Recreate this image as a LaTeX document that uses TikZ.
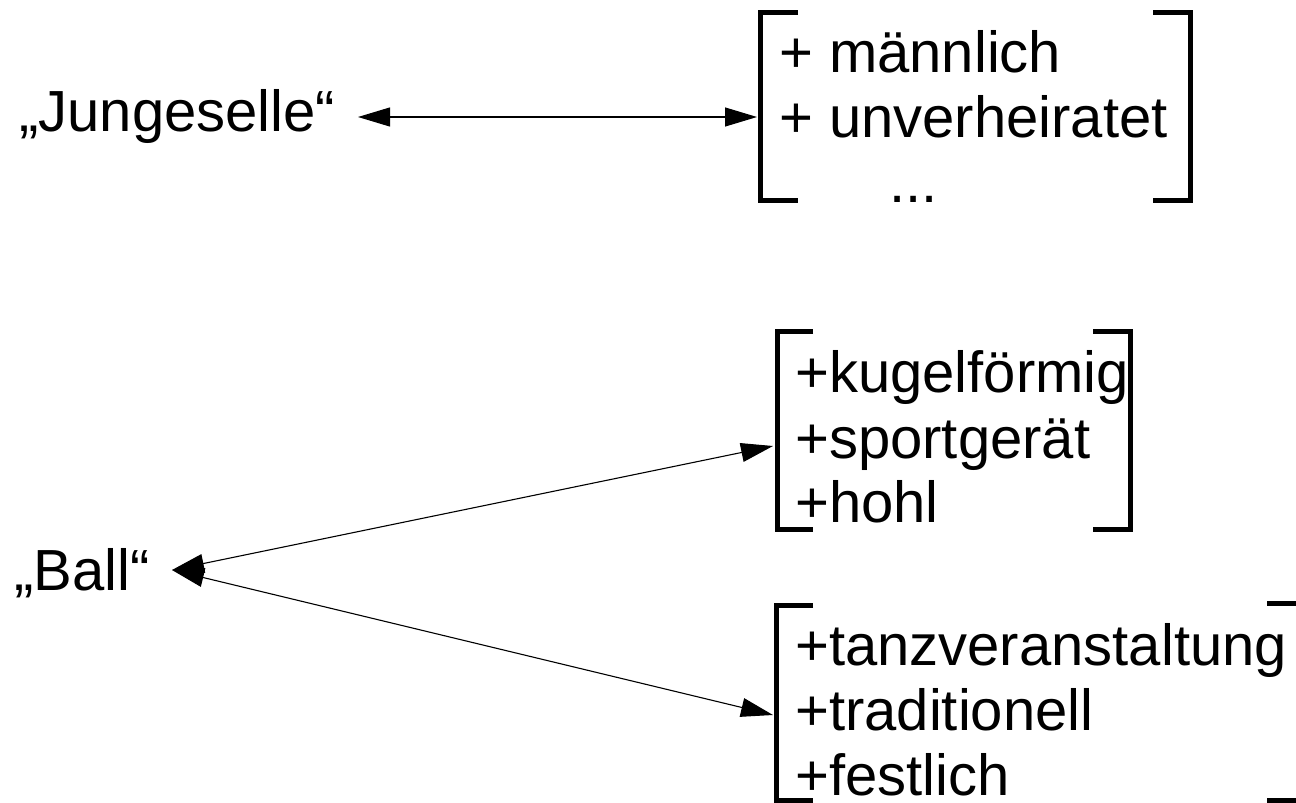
\documentclass[tikz,border=0pt]{standalone}
\usepackage{fontspec}
\setmainfont{Liberation Sans}
\usetikzlibrary{arrows.meta}

\begin{document}
\begin{tikzpicture}[x=1pt, y=-1pt,
  lbl/.style={anchor=base west, inner sep=0pt, font=\fontsize{58}{62}\selectfont},
  brk/.style={line width=5pt, line cap=butt, line join=miter},
  link/.style={line width=1.1pt,
    {Triangle[length=32pt,width=19pt]}-{Triangle[length=32pt,width=19pt]}}]
\useasboundingbox (0,0) rectangle (1296,803);

% words
\node[lbl] (jung) at (19,131) {„Jungeselle“};
\node[lbl] (ball) at (14,590) {„Ball“};

% feature list of "Jungeselle"
\node[lbl] (m1) at (779,72)  {+ männlich};
\node[lbl] (m2) at (779,137) {+ unverheiratet};
\node[lbl] (m3) at (889,202) {...};
\draw[brk] (798,12) -| (760,200) -- (798,200);
\draw[brk] (1153,12) -| (1190,200) -- (1153,200);

% first reading of "Ball"
\node[lbl] (k1) at (795,392) {+kugelförmig};
\node[lbl] (k2) at (795,458) {+sportgerät};
\node[lbl] (k3) at (795,522) {+hohl};
\draw[brk] (813,331) -| (777,529) -- (813,529);
\draw[brk] (1093,331) -| (1130,529) -- (1093,529);

% second reading of "Ball"
\node[lbl] (t1) at (795,665) {+tanzveranstaltung};
\node[lbl] (t2) at (795,730) {+traditionell};
\node[lbl] (t3) at (795,795) {+festlich};
\draw[brk] (813,605) -| (776,800) -- (813,800);
\draw[brk] (1267,603) -| (1304,800) -- (1267,800);

% arrow ends
\coordinate (jungtip) at (358,117);
\coordinate (mtip) at (757,117);
\coordinate (balltip) at (172,570);
\coordinate (ktip) at (773,446);
\coordinate (ttip) at (773,715);

\draw[link] (jungtip) -- (mtip);
\draw[link] (balltip) -- (ktip);
\draw[link] (balltip) -- (ttip);
\end{tikzpicture}
\end{document}
